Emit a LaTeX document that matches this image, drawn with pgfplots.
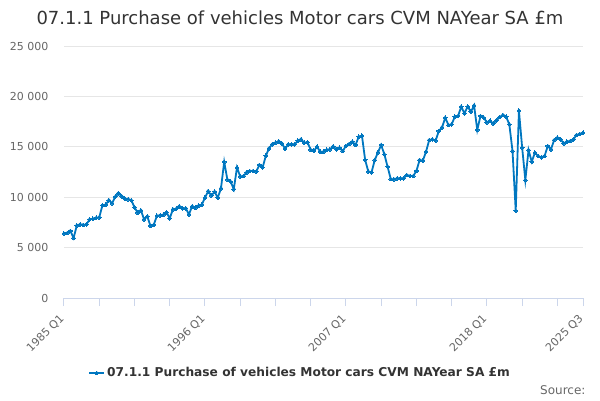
\documentclass[border=0pt]{standalone}
\usepackage{pgfplots}
\pgfplotsset{compat=1.18}
\usepackage{fontspec}
\setmainfont{DejaVu Sans}
\definecolor{series}{RGB}{0,119,192}
\definecolor{axisline}{RGB}{204,214,235}
\definecolor{gridc}{RGB}{230,230,230}
\definecolor{labelc}{RGB}{102,102,102}
\definecolor{titlec}{RGB}{51,51,51}
\begin{document}
\begin{tikzpicture}[x=1pt,y=1pt]
\path[use as bounding box] (0,0) rectangle (600,400);
\begin{axis}[
  at={(64pt,102pt)}, anchor=south west,
  scale only axis, width=519pt, height=252pt,
  xmin=0, xmax=162, ymin=0, ymax=25000,
  scaled y ticks=false,
  axis lines*=left,
  y axis line style={draw=none},
  x axis line style={draw=axisline, line width=1pt},
  ytick={0,5000,10000,15000,20000,25000},
  yticklabels={0,5 000,10 000,15 000,20 000,25 000},
  ymajorgrids, grid style={draw=gridc, line width=0.8pt},
  yticklabel style={font=\fontsize{11}{13}\selectfont, text=labelc, anchor=east, xshift=-4pt},
  ytick style={draw=none},
  xtick={0,44,88,132,162},
  xticklabels={1985 Q1,1996 Q1,2007 Q1,2018 Q1,2025 Q3},
  minor xtick={11,22,33,55,66,77,99,110,121,143,154},
  xtick style={draw=axisline, line width=1pt},
  minor tick style={draw=axisline, line width=1pt},
  major tick length=8pt, minor tick length=8pt,
  tick align=outside,
  xticklabel style={font=\fontsize{11}{13}\selectfont, text=labelc, yshift=-10pt, xshift=-1pt, rotate=45, anchor=east, inner sep=1pt},
  clip=false,
  legend style={at={(0.455,-0.298)}, anchor=center, draw=none, fill=none,
     font=\bfseries\fontsize{12.2}{14}\selectfont, text=titlec},
  legend image code/.code={\draw[#1] plot coordinates {(0pt,0pt) (7.5pt,0pt) (15pt,0pt)};},
  legend image post style={mark repeat=2, mark phase=2},
]
\addplot[color=series, line width=1.8pt, mark=*, mark size=1.9pt, mark options={solid, line width=0pt}] table {
x y
0 6400
1 6450
2 6650
3 5950
4 7200
5 7300
6 7250
7 7300
8 7800
9 7850
10 7950
11 8000
12 9200
13 9250
14 9700
15 9400
16 10050
17 10400
18 10100
19 9850
20 9800
21 9700
22 9000
23 8450
24 8700
25 7800
26 8100
27 7150
28 7250
29 8150
30 8200
31 8250
32 8500
33 7900
34 8800
35 8850
36 9100
37 8900
38 8900
39 8300
40 9100
41 8950
42 9150
43 9250
44 9950
45 10600
46 10150
47 10550
48 9950
49 10880
50 13500
51 11750
52 11550
53 10800
54 12950
55 12050
56 12100
57 12450
58 12600
59 12600
60 12550
61 13200
62 12950
63 14100
64 14850
65 15250
66 15400
67 15550
68 15350
69 14800
70 15250
71 15250
72 15250
73 15600
74 15750
75 15400
76 15450
77 14700
78 14600
79 15000
80 14500
81 14500
82 14700
83 14750
84 15050
85 14750
86 14900
87 14580
88 15080
89 15280
90 15510
91 15180
92 16000
93 16100
94 13700
95 12530
96 12470
97 13690
98 14450
99 15180
100 14250
101 13030
102 11800
103 11770
104 11870
105 11870
106 11870
107 12200
108 12100
109 12100
110 12600
111 13690
112 13620
113 14515
114 15670
115 15740
116 15610
117 16570
118 16930
119 17890
120 17160
121 17230
122 17990
123 18060
124 18980
125 18320
126 19000
127 18480
128 19100
129 16670
130 18060
131 17880
132 17430
133 17580
134 17300
135 17620
136 17950
137 18150
138 17990
139 17230
140 14580
141 8660
142 18580
143 14950
144 11700
145 14680
146 13520
147 14420
148 14080
149 13950
150 14080
151 15080
152 14750
153 15670
154 15900
155 15740
156 15340
157 15510
158 15570
159 15740
160 16170
161 16270
162 16400
};
\addlegendentry{07.1.1 Purchase of vehicles Motor cars CVM NAYear SA £m}
\end{axis}
\node[font=\fontsize{18}{21}\selectfont, text=titlec] at (300,382) {07.1.1 Purchase of vehicles Motor cars CVM NAYear SA £m};
\node[font=\fontsize{12}{14}\selectfont, text=labelc, anchor=east] at (589,10) {Source:};
\end{tikzpicture}
\end{document}
